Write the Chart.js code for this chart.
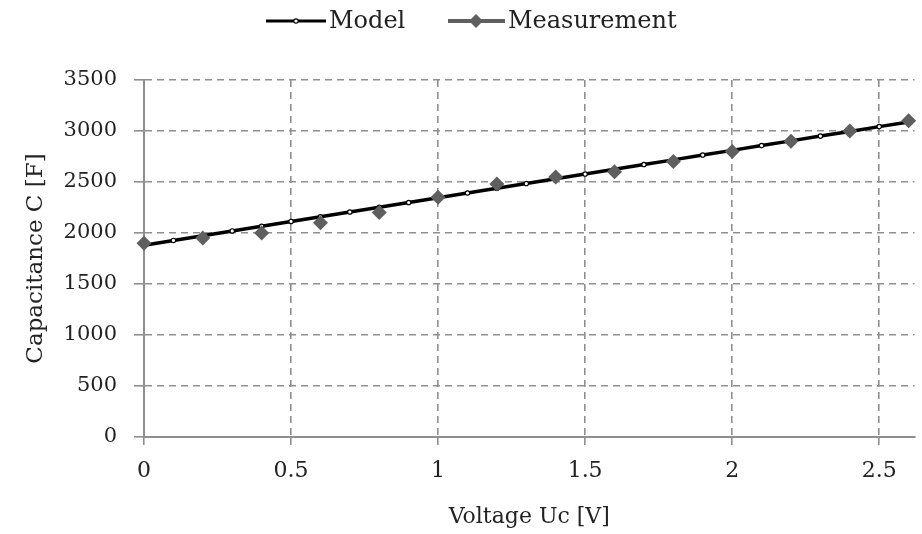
<!DOCTYPE html>
<html>
<head>
<meta charset="utf-8">
<script src="https://cdn.jsdelivr.net/npm/chart.js@4/dist/chart.umd.min.js"></script>
<style>
  html, body { margin: 0; padding: 0; background: #fff; }
  #wrap { width: 922px; height: 534px; }
</style>
</head>
<body>
<div id="wrap"><canvas id="capChart" width="922" height="534"></canvas></div>
<script>
// model curve, sampled every 0.1 V
const modelVoltage = [0, 0.1, 0.2, 0.3, 0.4, 0.5, 0.6, 0.7, 0.8, 0.9, 1.0, 1.1, 1.2, 1.3,
  1.4, 1.5, 1.6, 1.7, 1.8, 1.9, 2.0, 2.1, 2.2, 2.3, 2.4, 2.5, 2.6];
const modelCap = [1880, 1927, 1973, 2020, 2066, 2113, 2159, 2206, 2252, 2299, 2345, 2392, 2438, 2485,
  2531, 2578, 2624, 2671, 2717, 2764, 2810, 2857, 2903, 2950, 2996, 3043, 3089];

// measured points, every 0.2 V
const measVoltage = [0, 0.2, 0.4, 0.6, 0.8, 1.0, 1.2, 1.4, 1.6, 1.8, 2.0, 2.2, 2.4, 2.6];
const measCap = [1900, 1950, 2000, 2100, 2200, 2350, 2480, 2550, 2600, 2700, 2800, 2900, 3000, 3100];

const seriesNames = ["Model", "Measurement"];

const FONT = "'DejaVu Serif', serif";
const GRID = "#8f8f8f";
const MEAS_COLOR = "#5f5f5f";

function toPoints(xs, ys) {
  return xs.map((x, i) => ({ x: x, y: ys[i] }));
}

// legend with line + marker samples, drawn above the plot
const lineLegend = {
  id: "lineLegend",
  afterDraw(chart) {
    const ctx = chart.ctx;
    const y = 21;
    ctx.save();
    ctx.font = "24px " + FONT;
    ctx.textBaseline = "middle";
    ctx.fillStyle = "#222";

    // Model
    ctx.strokeStyle = "#000";
    ctx.lineWidth = 3;
    ctx.beginPath();
    ctx.moveTo(266, y);
    ctx.lineTo(326, y);
    ctx.stroke();
    ctx.beginPath();
    ctx.arc(296, y, 2.2, 0, Math.PI * 2);
    ctx.fillStyle = "#fff";
    ctx.fill();
    ctx.lineWidth = 1.2;
    ctx.stroke();
    ctx.fillStyle = "#222";
    ctx.fillText(seriesNames[0], 329, y + 1);

    // Measurement
    ctx.strokeStyle = MEAS_COLOR;
    ctx.lineWidth = 4;
    ctx.beginPath();
    ctx.moveTo(448, y);
    ctx.lineTo(505, y);
    ctx.stroke();
    ctx.fillStyle = MEAS_COLOR;
    ctx.beginPath();
    ctx.moveTo(476, y - 7);
    ctx.lineTo(483, y);
    ctx.lineTo(476, y + 7);
    ctx.lineTo(469, y);
    ctx.closePath();
    ctx.fill();
    ctx.fillStyle = "#222";
    ctx.fillText(seriesNames[1], 508, y + 1);
    ctx.restore();
  }
};

const ctx = document.getElementById("capChart").getContext("2d");
const chart = new Chart(ctx, {
  type: "line",
  data: {
    datasets: [
      {
        label: seriesNames[1],
        data: toPoints(measVoltage, measCap),
        showLine: false,
        pointStyle: "rectRot",
        pointRadius: 7.5,
        pointBackgroundColor: MEAS_COLOR,
        pointBorderColor: MEAS_COLOR,
        pointBorderWidth: 0,
        clip: false,
        order: 0
      },
      {
        label: seriesNames[0],
        data: toPoints(modelVoltage, modelCap),
        borderColor: "#000",
        borderWidth: 3.5,
        pointStyle: "circle",
        pointRadius: 2.2,
        pointBackgroundColor: "#fff",
        pointBorderColor: "#000",
        pointBorderWidth: 1.2,
        tension: 0,
        order: 1
      }
    ]
  },
  options: {
    responsive: false,
    animation: false,
    layout: { padding: { top: 80, right: 4, left: 0, bottom: 0 } },
    plugins: {
      legend: { display: false },
      tooltip: { enabled: false }
    },
    scales: {
      x: {
        type: "linear",
        min: 0,
        max: 2.62,
        afterFit: (scale) => { scale.height = 97; },
        ticks: {
          stepSize: 0.5,
          includeBounds: false,
          color: "#222",
          font: { family: FONT, size: 22 },
          padding: 13,
          callback: (v) => String(v)
        },
        grid: {
          color: GRID,
          lineWidth: 1.6,
          tickBorderDash: [],
          tickColor: GRID,
          tickLength: 8
        },
        border: { color: GRID, width: 2, dash: [7, 5] },
        title: {
          display: true,
          text: "Voltage Uc [V]",
          color: "#222",
          font: { family: FONT, size: 22 }
        }
      },
      y: {
        min: 0,
        max: 3500,
        afterFit: (scale) => { scale.width = 144; },
        ticks: {
          stepSize: 500,
          color: "#222",
          font: { family: FONT, size: 21 },
          padding: 17,
          callback: (v) => String(v)
        },
        grid: {
          color: GRID,
          lineWidth: 1.6,
          tickBorderDash: [],
          tickColor: GRID,
          tickLength: 10
        },
        border: { color: GRID, width: 2, dash: [7, 5] },
        title: {
          display: true,
          text: "Capacitance C [F]",
          color: "#222",
          font: { family: FONT, size: 23 },
          padding: { top: 22, bottom: 0 }
        }
      }
    }
  },
  plugins: [lineLegend]
});
</script>
</body>
</html>
